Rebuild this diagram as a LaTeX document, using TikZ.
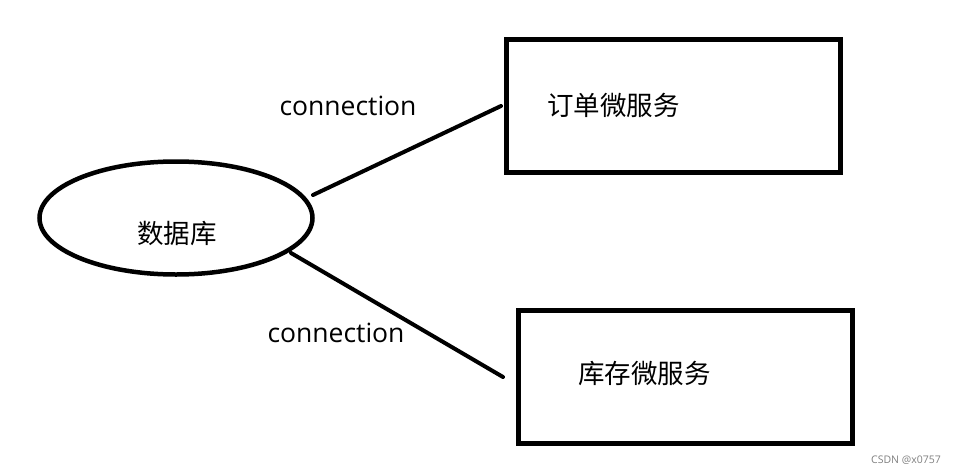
\documentclass[tikz,border=0pt]{standalone}
\usepackage{fontspec}
\setmainfont{Open Sans}
\newfontfamily\cjk{Noto Sans CJK SC}
\usetikzlibrary{shapes.geometric}
\begin{document}
\begin{tikzpicture}[x=1pt,y=-1pt,
  dbshape/.style={ellipse,draw,line width=4.5pt,minimum width=273pt,minimum height=113pt,inner sep=0pt},
  svcbox/.style={rectangle,draw,line width=5pt,inner sep=0pt},
  cjklabel/.style={font=\cjk\fontsize{26.5}{30}\selectfont,inner sep=0pt},
  conlabel/.style={font=\fontsize{26.5}{30}\selectfont,inner sep=0pt},
  link/.style={line width=4pt,line cap=round}]
\useasboundingbox (0,0) rectangle (956,474);
\fill[white] (0,0) rectangle (956,474);
\node[dbshape] (db) at (176,218) {};
\node[cjklabel] (dbtext) at (177,233) {数据库};
\node[svcbox,minimum width=334pt,minimum height=133pt] (order) at (673,105.5) {};
\node[svcbox,minimum width=334pt,minimum height=133pt] (stock) at (685,376.5) {};
\node[cjklabel,anchor=west] (ordertext) at (547,105) {订单微服务};
\node[cjklabel,anchor=west] (stocktext) at (578,373) {库存微服务};
\node[conlabel] (con1) at (348,106) {connection};
\node[conlabel] (con2) at (336,333) {connection};
\coordinate (l1a) at (313,195);
\coordinate (l1b) at (501,106);
\coordinate (l2a) at (291,253);
\coordinate (l2b) at (503,377);
\draw[link] (l1a) -- (l1b);
\draw[link] (l2a) -- (l2b);
\node[font=\fontsize{10.5}{12}\selectfont,text=gray,inner sep=0pt] (wm) at (906,460) {CSDN @x0757};
\end{tikzpicture}
\end{document}
